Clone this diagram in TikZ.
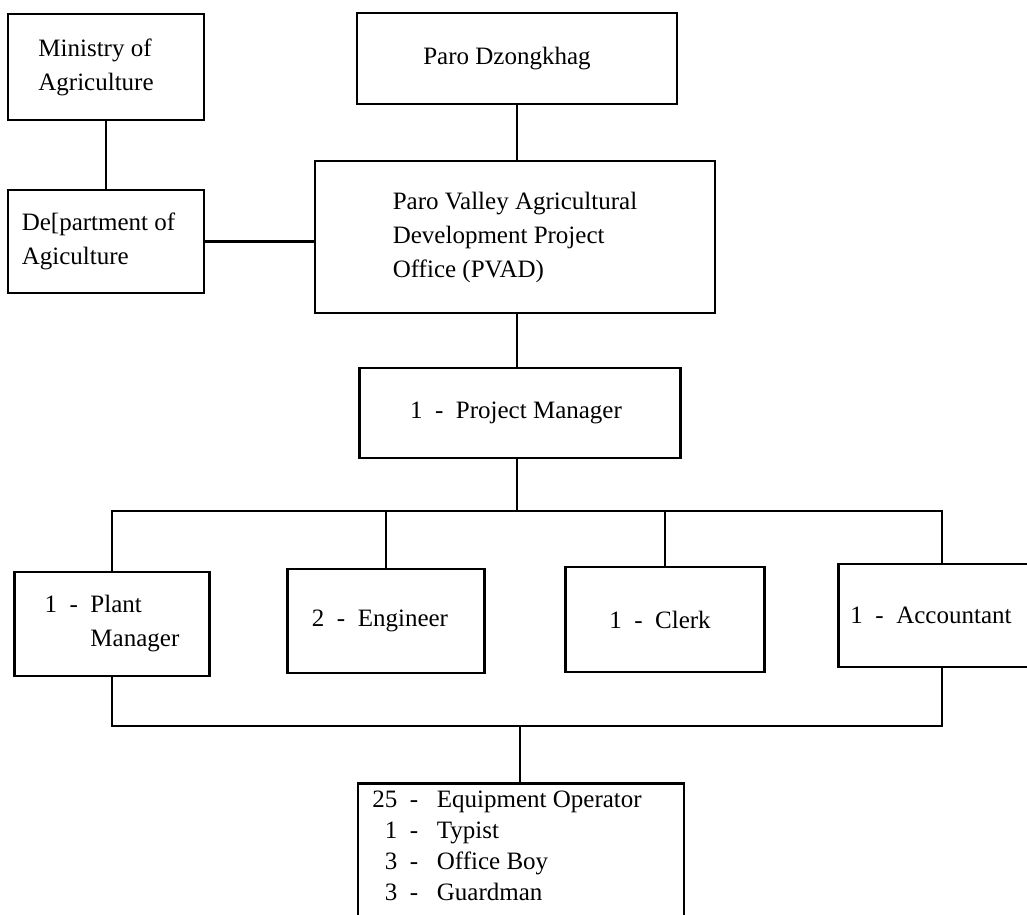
\documentclass[tikz,border=0pt]{standalone}
\usepackage{fontspec}
\setmainfont{Liberation Serif}
\usetikzlibrary{positioning,calc}
\tikzset{
  unit/.style={draw=black, line width=2.8pt, rectangle, align=left, inner sep=0pt,
    font=\fontsize{25}{34}\selectfont},
  staff/.style={unit, anchor=north, inner xsep=12pt, inner ysep=8pt,
    font=\fontsize{25}{31}\selectfont},
  link/.style={draw=black, line width=2.8pt}
}
\newcommand{\num}[1]{\makebox[25pt][r]{#1}\ \ -\ \ \ }

\begin{document}
\begin{tikzpicture}[x=1pt, y=-1pt]
    \useasboundingbox (0,0) rectangle (1027,914);
    \clip (0,0) rectangle (1027,914);

    % top row
    \node[unit, minimum width=196, minimum height=106] (ministry) at (106,67)
      {Ministry of\hspace*{22pt}\\Agriculture};
    \node[unit, minimum width=196, minimum height=103] (dept) at (106,241.5)
      {De[partment of\hspace*{15pt}\\Agiculture};
    \node[unit, minimum width=320, minimum height=91] (dzong) at (517,58.5) {Paro Dzongkhag\hspace*{20pt}};
    \node[unit, minimum width=400, minimum height=152] (pvad) at (515,237)
      {Paro Valley Agricultural\\Development Project\\Office (PVAD)};
    \node[unit, minimum width=321, minimum height=90] (pm) at (520,413) {1\ \ -\ \ Project Manager\hspace*{8pt}};

    % sections
    \node[unit, minimum width=195, minimum height=104] (plant) at (112,624)
      {1\ \ -\ \ Plant\\\phantom{1\ \ -\ \ }Manager};
    \node[unit, minimum width=197, minimum height=104] (eng) at (386,621) {2\ \ -\ \ Engineer\hspace*{12pt}};
    \node[unit, minimum width=199, minimum height=105] (clerk) at (665,619.5) {1\ \ -\ \ Clerk\hspace*{10pt}};
    \node[unit, minimum width=207, minimum height=103] (acct) at (942,615.5) {1\ \ -\ \ Accountant\hspace*{22pt}};

    % field staff
    \node[staff, minimum width=326, text depth=40pt] (crew) at (521,782)
      {\num{25}Equipment Operator\hspace*{28pt}\\\num{1}Typist\\\num{3}Office Boy\\\num{3}Guardman};

    \coordinate (bus) at (517,511);
    \coordinate (bus2) at (520,726);

    \draw[link] (ministry) -- (dept);
    \draw[link] (dzong) -- (dzong |- pvad.north);
    \draw[link] (dept.east) -- (dept.east -| pvad.west);
    \draw[link] (pvad.south -| bus) -- (pm.north -| bus);
    \draw[link] (pm.south -| bus) -- (bus);
    \draw[link] (plant.north) |- (bus) -| (acct.north);
    \draw[link] (eng.north) -- (eng.north |- bus);
    \draw[link] (clerk.north) -- (clerk.north |- bus);
    \draw[link] (plant.south) |- (bus2) -| (acct.south);
    \draw[link] (bus2) -- (bus2 |- crew.north);
\end{tikzpicture}
\end{document}
